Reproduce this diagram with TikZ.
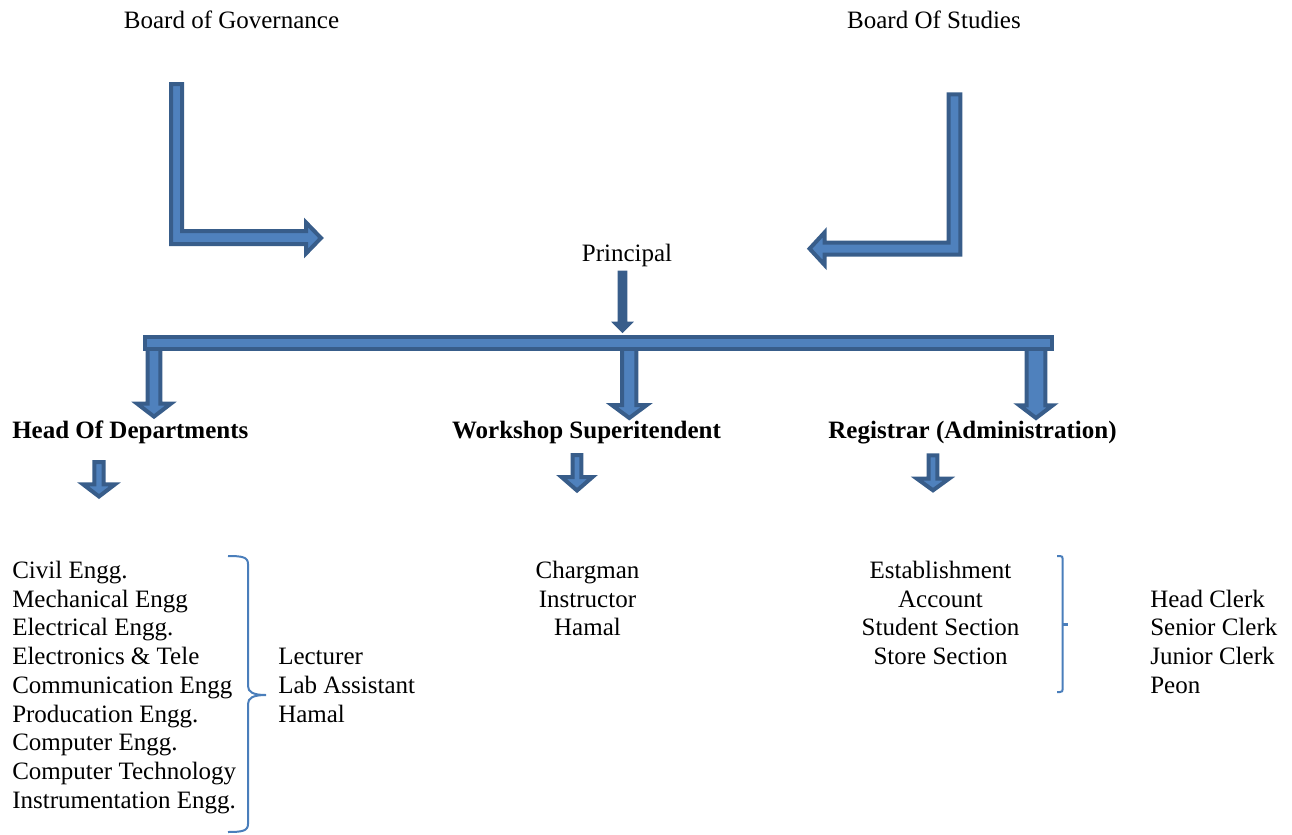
\documentclass[tikz,border=0pt]{standalone}
\usepackage{fontspec}
\setmainfont{Liberation Serif}
\definecolor{arrfill}{HTML}{4F81BD}
\definecolor{arrline}{HTML}{385D8A}
\definecolor{bracecol}{HTML}{4A7EBB}
\tikzset{
  blockarrow/.style={fill=arrfill, draw=arrline, line width=3pt, line join=miter},
  smallarrow/.style={fill=arrline, draw=arrline, line width=0.75pt, line join=miter},
  bracket/.style={draw=bracecol, line width=1.5pt},
  txt/.style={inner sep=0pt, font=\fontsize{18.75}{21.5}\selectfont},
  lbl/.style={inner sep=0pt, font=\fontsize{18.75}{21.5}\selectfont\bfseries},
}
% cx, top, shaft half width, head half width, head base, tip, style
\newcommand{\dnarrow}[7]{%
  \draw[#7] ({#1-#3},#2) -- ({#1+#3},#2) -- ({#1+#3},#5) -- ({#1+#4},#5)
    -- (#1,#6) -- ({#1-#4},#5) -- ({#1-#3},#5) -- cycle;}
\begin{document}
\begin{tikzpicture}[x=0.75pt,y=-0.75pt]
\useasboundingbox (0,0) rectangle (1292,835);

% top titles
\node[txt, anchor=base] (bog) at (231.5,28) {Board of Governance};
\node[txt, anchor=base] (bos) at (934,28) {Board Of Studies};
\node[txt, anchor=base] (principal) at (627,261) {Principal};

% bent arrows
\draw[blockarrow] (171,84) -- (182,84) -- (182,231) -- (306,231) -- (306,222.5)
  -- (321,238) -- (306,253.5) -- (306,244) -- (171,244) -- cycle;
\draw[blockarrow] (960.3,94.3) -- (948.7,94.3) -- (948.7,242.7) -- (824.7,242.7)
  -- (824.7,232.3) -- (809.6,248.7) -- (824.7,265.1) -- (824.7,254.7) -- (960.3,254.7) -- cycle;

% arrow below principal
\dnarrow{622.5}{271}{4.3}{10.3}{322}{332.5}{smallarrow}

% down arrows from bar
\dnarrow{154}{345}{6.3}{16.8}{403.7}{416.6}{blockarrow}
\dnarrow{629.3}{345}{7.15}{17.5}{405}{418}{blockarrow}
\dnarrow{1036}{345}{9.3}{16.7}{405.3}{418}{blockarrow}
% bar
\draw[blockarrow] (145.3,337) rectangle (1052,348.7);

% level labels
\node[lbl, anchor=base west] (hod) at (12,438) {Head Of Departments};
\node[lbl, anchor=base] (ws) at (586.5,438) {Workshop Superitendent};
\node[lbl, anchor=base] (reg) at (972.5,438) {Registrar (Administration)};

% small down arrows
\dnarrow{99}{462}{4.65}{16}{484.3}{496.5}{blockarrow}
\dnarrow{577}{455}{4.35}{15.5}{477}{490.5}{blockarrow}
\dnarrow{933}{455.3}{4.3}{16}{478.7}{490.3}{blockarrow}

% departments list
\foreach \t [count=\i] in {Civil Engg., Mechanical Engg, Electrical Engg., Electronics \& Tele,
  Communication Engg, Producation Engg., Computer Engg., Computer Technology, Instrumentation Engg.}
  \node[txt, anchor=base west] (dep\i) at (12,{578.3+(\i-1)*28.75}) {\t};

\foreach \t [count=\i] in {Lecturer, Lab Assistant, Hamal}
  \node[txt, anchor=base west] (staff\i) at (278,{664.6+(\i-1)*28.75}) {\t};

\foreach \t [count=\i] in {Chargman, Instructor, Hamal}
  \node[txt, anchor=base] (wsl\i) at (587.5,{578.3+(\i-1)*28.75}) {\t};

\foreach \t [count=\i] in {Establishment, Account, Student Section, Store Section}
  \node[txt, anchor=base] (adm\i) at (940.5,{578.3+(\i-1)*28.75}) {\t};

\foreach \t [count=\i] in {Head Clerk, Senior Clerk, Junior Clerk, Peon}
  \node[txt, anchor=base west] (clk\i) at (1150,{607+(\i-1)*28.75}) {\t};

% braces
\draw[bracket] (228,556) .. controls (242,556) and (248,557) .. (248,564) -- (248,686)
  .. controls (248,692) and (253,695) .. (266,695)
  .. controls (253,695) and (248,698) .. (248,704) -- (248,824)
  .. controls (248,831) and (242,832) .. (228,832);
\draw[bracket] (1057,556) -- (1060,556) .. controls (1062,556) and (1062.7,557) .. (1062.7,559)
  -- (1062.7,689) .. controls (1062.7,691) and (1062,692) .. (1060,692) -- (1057,692);
\draw[bracket, line width=2.4pt] (1062.7,624.3) -- (1068,624.3);
\end{tikzpicture}
\end{document}
